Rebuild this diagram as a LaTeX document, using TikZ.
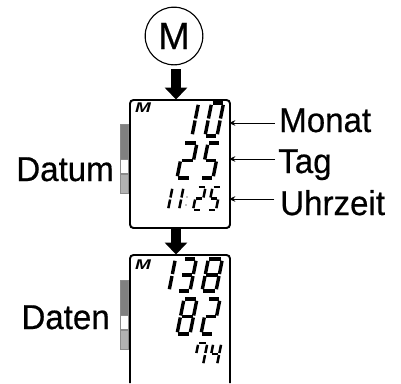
\documentclass[tikz,border=0pt]{standalone}
\usepackage{fontspec}
\setmainfont{Liberation Sans}
\newfontfamily\beschriftfont[RawFeature={embolden=0.5}]{Liberation Sans}
\usetikzlibrary{arrows.meta}
\tikzset{
	beschrift/.style={inner sep=0, font=\beschriftfont\fontsize{24.5}{25}\selectfont, xscale=0.96},
	lcdrand/.style={line width=1.4pt, rounded corners=2.5pt},
	lcdseg/.style={line width=2.4pt},
	lcdklein/.style={lcdseg/.style={line width=1.8pt}},
	blockpfeil/.style={line width=7.4pt, -{Triangle[length=8.4pt, width=15.5pt]}},
	zeiger/.style={line width=0.6pt, -{Stealth[length=4.5pt, width=4pt]}},
	balkenrand/.style={draw=black!45, line width=0.5pt}
}
\def\lcdsega{\draw[lcdseg] (1,-\lcdh) -- ({\lcdw-1},-\lcdh);}
\def\lcdsegb{\draw[lcdseg] (\lcdw,{-\lcdh+1.8}) -- (\lcdw,{-\lcdh/2-1});}
\def\lcdsegc{\draw[lcdseg] (\lcdw,{-\lcdh/2+1}) -- (\lcdw,-1.8);}
\def\lcdsegd{\draw[lcdseg] (1,0) -- ({\lcdw-1},0);}
\def\lcdsege{\draw[lcdseg] (0,{-\lcdh/2+1}) -- (0,-1.8);}
\def\lcdsegf{\draw[lcdseg] (0,{-\lcdh+1.8}) -- (0,{-\lcdh/2-1});}
\def\lcdsegg{\draw[lcdseg] (1,{-\lcdh/2}) -- ({\lcdw-1},{-\lcdh/2});}
\def\lcddigit(#1,#2)(#3:#4)#5{
	\begin{scope}[shift={(#1,#2)}, xslant=0.2]
		\def\lcdw{#3}\def\lcdh{#4}
		\foreach \s in {#5} {\csname lcdseg\s\endcsname}
	\end{scope}
}
\def\zustandbalken(#1){
	\begin{scope}[shift={(0,#1)}]
		\draw[balkenrand, fill=black!50] (120.5,0) rectangle (128,35);
		\draw[balkenrand, fill=white] (120.5,35) rectangle (128,49.5);
		\draw[balkenrand, fill=black!30] (120.5,50) rectangle (128,69);
	\end{scope}
}

\begin{document}
\begin{tikzpicture}[x=0.025cm, y=-0.025cm]
	\useasboundingbox (0,0) rectangle (401,383);

	\node[draw, circle, line width=0.8pt, minimum size=41pt, inner sep=0, font=\beschriftfont\fontsize{27}{28}\selectfont] (mtaste) at (174,36) {M};
	\coordinate (pfeilastart) at (176,69);
	\coordinate (pfeilaziel) at (176,99.5);
	\coordinate (pfeilbstart) at (176,228);
	\coordinate (pfeilbziel) at (176,254.5);

	% Datum
	\draw[lcdrand] (130,100) rectangle (230,228);
	\zustandbalken(124)
	\node[font=\fontsize{10}{10}\bfseries\itshape, xscale=1.35, inner sep=0] (msymbola) at (143,108) {M};

	\lcddigit(191,136)(1:33){b,c}
	\lcddigit(205,136)(12:33){a,b,c,d,e,f}
	\lcddigit(177,178)(13:35){a,b,g,e,d}
	\lcddigit(201,178)(12:35){a,f,g,c,d}
	\begin{scope}[lcdklein]
		\lcddigit(167,210)(1:23){b,c}
		\lcddigit(178,210)(1:23){b,c}
		\fill (187,197) circle (0.7);
		\fill (186,205) circle (0.7);
		\lcddigit(193,210)(8:23){a,b,g,e,d}
		\lcddigit(208,210)(8:23){a,f,g,c,d}
	\end{scope}

	% Daten
	\draw[lcdrand] (130,383) -- (130,255) -- (230,255) -- (230,383);
	\zustandbalken(280)
	\node[font=\fontsize{10}{10}\bfseries\itshape, xscale=1.35, inner sep=0] (msymbolb) at (143,265) {M};

	\lcddigit(168,291)(1:32){b,c}
	\lcddigit(178,291)(12:32){a,b,g,c,d}
	\lcddigit(202,291)(14:32){a,b,c,d,e,f,g}
	\lcddigit(177,334)(13:35){a,b,c,d,e,f,g}
	\lcddigit(201,334)(12:35){a,b,g,e,d}
	\begin{scope}[lcdklein]
		\lcddigit(194,365)(9:22){a,b,c,f}
		\lcddigit(209,365)(8:22){f,g,b,c}
	\end{scope}

	\draw[blockpfeil] (pfeilastart) -- (pfeilaziel);
	\draw[blockpfeil] (pfeilbstart) -- (pfeilbziel);

	\node[beschrift, anchor=base east] (datum) at (114,181) {Datum};
	\node[beschrift, anchor=base east] (daten) at (110,329) {Daten};

	\node[beschrift, anchor=base west] (monat) at (279,132) {Monat};
	\node[beschrift, anchor=base west] (tag) at (278,173) {Tag};
	\node[beschrift, anchor=base west] (uhrzeit) at (280,215) {Uhrzeit};

	\coordinate (zielmonat) at (229,123);
	\coordinate (zieltag) at (229,159);
	\coordinate (zieluhrzeit) at (229,199);
	\draw[zeiger] ([xshift=-3pt]monat.west |- zielmonat) -- (zielmonat);
	\draw[zeiger] ([xshift=-2pt]tag.west |- zieltag) -- (zieltag);
	\draw[zeiger] ([xshift=-4pt]uhrzeit.west |- zieluhrzeit) -- (zieluhrzeit);
\end{tikzpicture}
\end{document}
